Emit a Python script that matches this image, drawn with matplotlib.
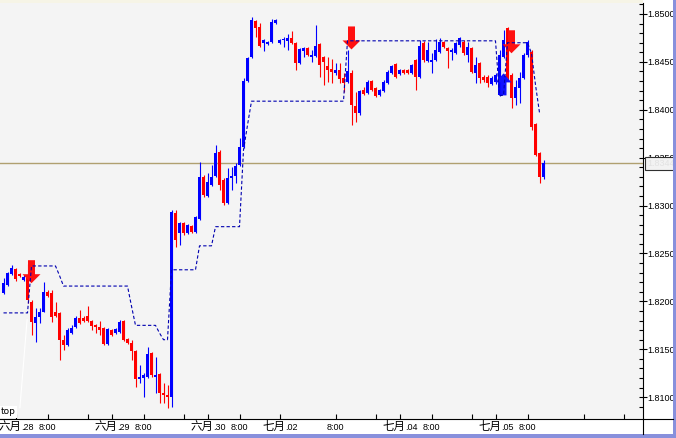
import numpy as np
import matplotlib
matplotlib.use("Agg")
import matplotlib.pyplot as plt
from matplotlib.patches import Polygon, Rectangle
from matplotlib.lines import Line2D
import matplotlib.transforms as mtransforms

# hourly candles, GBP/USD style quotes
opens = [1.8209, 1.8217, 1.8229, 1.8234, 1.8229, 1.8222, 1.8224, 1.8199, 1.8177, 1.8184,
         1.8189, 1.8210, 1.8209, 1.8189, 1.8188, 1.8160, 1.8154, 1.8167, 1.8173, 1.8183,
         1.8183, 1.8185, 1.8180, 1.8175, 1.8173, 1.8172, 1.8156, 1.8170, 1.8167, 1.8168,
         1.8180, 1.8161, 1.8157, 1.8148, 1.8119, 1.8120, 1.8121, 1.8146, 1.8121, 1.8124,
         1.8104, 1.8102, 1.8100, 1.8292, 1.8271, 1.8282, 1.8271, 1.8279, 1.8272, 1.8286,
         1.8330, 1.8310, 1.8322, 1.8331, 1.8356, 1.8327, 1.8303, 1.8329, 1.8331, 1.8342,
         1.8361, 1.8430, 1.8455, 1.8493, 1.8486, 1.8470, 1.8469, 1.8471, 1.8491, 1.8470,
         1.8473, 1.8472, 1.8475, 1.8470, 1.8449, 1.8461, 1.8465, 1.8455, 1.8456, 1.8469,
         1.8455, 1.8446, 1.8443, 1.8438, 1.8442, 1.8433, 1.8429, 1.8438, 1.8404, 1.8397,
         1.8421, 1.8418, 1.8430, 1.8423, 1.8415, 1.8420, 1.8428, 1.8438, 1.8448, 1.8437,
         1.8442, 1.8442, 1.8438, 1.8452, 1.8434, 1.8470, 1.8451, 1.8450, 1.8452, 1.8460,
         1.8471, 1.8465, 1.8460, 1.8459, 1.8468, 1.8471, 1.8457, 1.8465, 1.8438, 1.8449,
         1.8434, 1.8434, 1.8427, 1.8429, 1.8415, 1.8455, 1.8485, 1.8436, 1.8412, 1.8423,
         1.8433, 1.8457, 1.8460, 1.8385, 1.8355, 1.8330]
highs = [1.8224, 1.8231, 1.8238, 1.8235, 1.8230, 1.8228, 1.8239, 1.8201, 1.8193, 1.8193,
         1.8220, 1.8212, 1.8212, 1.8199, 1.8189, 1.8165, 1.8172, 1.8175, 1.8185, 1.8191,
         1.8185, 1.8195, 1.8181, 1.8176, 1.8180, 1.8173, 1.8172, 1.8171, 1.8172, 1.8181,
         1.8181, 1.8162, 1.8160, 1.8149, 1.8134, 1.8125, 1.8152, 1.8147, 1.8142, 1.8125,
         1.8115, 1.8113, 1.8295, 1.8295, 1.8283, 1.8283, 1.8281, 1.8280, 1.8289, 1.8346,
         1.8332, 1.8334, 1.8342, 1.8363, 1.8358, 1.8329, 1.8339, 1.8340, 1.8344, 1.8371,
         1.8433, 1.8455, 1.8497, 1.8494, 1.8491, 1.8474, 1.8472, 1.8495, 1.8495, 1.8474,
         1.8476, 1.8479, 1.8482, 1.8471, 1.8465, 1.8466, 1.8466, 1.8462, 1.8489, 1.8470,
         1.8456, 1.8455, 1.8453, 1.8449, 1.8449, 1.8438, 1.8462, 1.8442, 1.8419, 1.8421,
         1.8424, 1.8431, 1.8431, 1.8424, 1.8422, 1.8431, 1.8442, 1.8447, 1.8449, 1.8443,
         1.8443, 1.8443, 1.8448, 1.8453, 1.8473, 1.8472, 1.8471, 1.8459, 1.8474, 1.8475,
         1.8472, 1.8466, 1.8465, 1.8471, 1.8476, 1.8473, 1.8471, 1.8466, 1.8455, 1.8450,
         1.8436, 1.8436, 1.8435, 1.8438, 1.8462, 1.8483, 1.8486, 1.8438, 1.8431, 1.8439,
         1.8459, 1.8473, 1.8462, 1.8386, 1.8356, 1.8348]
lows = [1.8208, 1.8216, 1.8228, 1.8221, 1.8225, 1.8221, 1.8198, 1.8165, 1.8158, 1.8177,
        1.8189, 1.8205, 1.8179, 1.8184, 1.8139, 1.8149, 1.8153, 1.8166, 1.8172, 1.8176,
        1.8179, 1.8179, 1.8170, 1.8167, 1.8165, 1.8154, 1.8154, 1.8164, 1.8166, 1.8167,
        1.8159, 1.8156, 1.8139, 1.8111, 1.8115, 1.8100, 1.8120, 1.8121, 1.8104, 1.8094,
        1.8094, 1.8089, 1.8090, 1.8257, 1.8259, 1.8269, 1.8270, 1.8271, 1.8271, 1.8285,
        1.8309, 1.8309, 1.8320, 1.8330, 1.8316, 1.8301, 1.8302, 1.8316, 1.8324, 1.8341,
        1.8360, 1.8429, 1.8454, 1.8476, 1.8466, 1.8461, 1.8468, 1.8470, 1.8490, 1.8469,
        1.8466, 1.8462, 1.8469, 1.8442, 1.8448, 1.8455, 1.8456, 1.8450, 1.8455, 1.8434,
        1.8426, 1.8429, 1.8428, 1.8436, 1.8428, 1.8419, 1.8428, 1.8384, 1.8387, 1.8395,
        1.8415, 1.8416, 1.8420, 1.8413, 1.8414, 1.8419, 1.8427, 1.8437, 1.8433, 1.8436,
        1.8437, 1.8437, 1.8437, 1.8421, 1.8433, 1.8450, 1.8450, 1.8438, 1.8451, 1.8459,
        1.8465, 1.8444, 1.8452, 1.8458, 1.8466, 1.8457, 1.8450, 1.8438, 1.8428, 1.8428,
        1.8429, 1.8424, 1.8426, 1.8427, 1.8414, 1.8454, 1.8431, 1.8402, 1.8405, 1.8407,
        1.8432, 1.8455, 1.8379, 1.8352, 1.8324, 1.8328]
closes = [1.8219, 1.8230, 1.8235, 1.8223, 1.8227, 1.8225, 1.8201, 1.8179, 1.8184, 1.8189,
          1.8210, 1.8206, 1.8184, 1.8185, 1.8160, 1.8154, 1.8170, 1.8172, 1.8183, 1.8177,
          1.8180, 1.8180, 1.8174, 1.8173, 1.8170, 1.8156, 1.8171, 1.8165, 1.8171, 1.8179,
          1.8160, 1.8157, 1.8148, 1.8119, 1.8121, 1.8123, 1.8145, 1.8123, 1.8123, 1.8104,
          1.8102, 1.8100, 1.8293, 1.8264, 1.8282, 1.8271, 1.8280, 1.8272, 1.8288, 1.8330,
          1.8311, 1.8325, 1.8330, 1.8355, 1.8322, 1.8303, 1.8329, 1.8331, 1.8341, 1.8361,
          1.8430, 1.8454, 1.8494, 1.8485, 1.8467, 1.8473, 1.8471, 1.8492, 1.8494, 1.8473,
          1.8474, 1.8475, 1.8470, 1.8449, 1.8463, 1.8465, 1.8457, 1.8457, 1.8467, 1.8447,
          1.8450, 1.8442, 1.8439, 1.8442, 1.8432, 1.8428, 1.8441, 1.8405, 1.8397, 1.8420,
          1.8416, 1.8429, 1.8421, 1.8414, 1.8421, 1.8429, 1.8439, 1.8446, 1.8434, 1.8442,
          1.8438, 1.8438, 1.8447, 1.8434, 1.8467, 1.8452, 1.8462, 1.8452, 1.8462, 1.8471,
          1.8466, 1.8461, 1.8462, 1.8470, 1.8475, 1.8459, 1.8466, 1.8439, 1.8447, 1.8433,
          1.8431, 1.8428, 1.8433, 1.8436, 1.8457, 1.8473, 1.8433, 1.8412, 1.8424, 1.8433,
          1.8457, 1.8471, 1.8382, 1.8353, 1.8330, 1.8344]

# trailing stop level (step line)
stop = ([1.8188] * 7 + [1.8237] * 7 + [1.8227] + [1.8216] * 17 + [1.8195] + [1.8175] * 6
        + [1.8167] + [1.8160] * 2 + [1.8233] * 7 + [1.8258] * 4 + [1.8278] * 7
        + [1.8358, 1.8384] + [1.8409] * 24 + [1.8472] * 38 + [1.8415] * 2
        + [1.8470] * 6 + [1.8459, 1.8426, 1.8397, np.nan])

sell_idx = [7, 87, 127]
sell_price = [1.8219, 1.8463, 1.8459]
buy_idx = [125]
buy_price = [1.8438]
last_price = 1.8344

day_ticks = [3, 27, 51, 69, 99, 123]
day_months = ["六月", "六月", "六月", "七月", "七月", "七月"]
day_dates = [".28", ".29", ".30", ".02", ".04", ".05"]
hour_ticks = [11, 35, 59, 83, 107, 131]
blank_ticks = [21, 45, 93, 117, 145, 155]

W, H = 676, 438
fig = plt.figure(figsize=(W / 100, H / 100), dpi=100, facecolor="white")
ax = fig.add_axes([0, 1 - 419 / H, 643 / W, (419 - 3) / H])
ax.set_facecolor("#F4F4F4")
ax.set_xlim(-0.875, 159.875)
ax.set_ylim(1.807724, 1.851148)

# size of one screen pixel in data units
px_x = (159.875 + 0.875) / 643
px_y = (1.851148 - 1.807724) / 416

x = np.arange(len(opens))
o = np.array(opens)
c = np.array(closes)
colors = np.where(c >= o, "#0000FF", "#FF0000")
ax.vlines(x, lows, highs, colors=colors, lw=0.8, zorder=2)
body_h = np.maximum(np.abs(c - o), px_y)
ax.bar(x, body_h, bottom=np.minimum(o, c), width=0.75, color=colors, linewidth=0, zorder=2)

for xi, tip in zip(sell_idx, sell_price):
    pts = [(-3.5, 23), (3.5, 23), (3.5, 9), (9, 9), (0, 0), (-9, 9), (-3.5, 9)]
    ax.add_patch(Polygon([(xi + dx * px_x, tip + dy * px_y) for dx, dy in pts],
                         closed=True, fc="#FF1010", ec="none", zorder=3))
for xi, tip in zip(buy_idx, buy_price):
    pts = [(-3, -22), (3, -22), (3, -9), (8, -9), (0, 0), (-8, -9), (-3, -9)]
    ax.add_patch(Polygon([(xi + dx * px_x, tip + dy * px_y) for dx, dy in pts],
                         closed=True, fc="#1010FF", ec="none", zorder=3))

ax.plot(x, stop, color="#0000B0", lw=0.8, dashes=(3, 2), zorder=4)
ax.axhline(last_price, color="#B0A070", lw=1.0, zorder=1)

# faint line from the "top" label
ax.plot([4.1, 5.9], [1.8089, 1.8181], color="white", lw=0.8, zorder=1)

# right price axis
ax.yaxis.tick_right()
ax.set_yticks(np.arange(1.8100, 1.85001, 0.005))
ax.set_yticks(np.arange(1.8090, 1.85101, 0.001), minor=True)
ax.yaxis.set_major_formatter(matplotlib.ticker.FormatStrFormatter("%.4f"))
ax.tick_params(axis="y", which="major", direction="inout", length=5.8, width=0.8,
               pad=0.5, labelsize=6.5, labelfontfamily="Liberation Sans")
ax.tick_params(axis="y", which="minor", direction="in", length=3, width=0.8)

# time axis
ax.set_xticks(sorted(day_ticks + hour_ticks + blank_ticks))
ax.set_xticklabels([])
ax.tick_params(axis="x", direction="in", length=3.6, width=0.8)
for xt, m, d in zip(day_ticks, day_months, day_dates):
    ax.annotate(m, xy=(xt, 0), xycoords=("data", "axes fraction"), xytext=(4.0, -7.8),
                textcoords="offset points", ha="right", va="baseline", fontsize=8.3,
                family=["Noto Sans CJK SC", "DejaVu Sans"], annotation_clip=False)
    ax.annotate(d, xy=(xt, 0), xycoords=("data", "axes fraction"), xytext=(4.2, -7.8),
                textcoords="offset points", ha="left", va="baseline", fontsize=6.5,
                family="Liberation Sans", annotation_clip=False)
for xt in hour_ticks:
    ax.annotate("8:00", xy=(xt, 0), xycoords=("data", "axes fraction"), xytext=(0, -7.8),
                textcoords="offset points", ha="center", va="baseline", fontsize=6.5,
                family="Liberation Sans", annotation_clip=False)

for side in ["top", "left"]:
    ax.spines[side].set_visible(False)
for side in ["right", "bottom"]:
    ax.spines[side].set_linewidth(0.8)

# current price box on the scale
ax.text(1.0, last_price, "1.8344", transform=mtransforms.blended_transform_factory(
            ax.transAxes, ax.transData) + mtransforms.ScaledTranslation(4 / 100, 0, fig.dpi_scale_trans),
        ha="left", va="center", fontsize=6.5, family="Liberation Sans", color="#E2E2E2",
        bbox=dict(boxstyle="square,pad=0.25", fc="#F2F2F2", ec="#303030", lw=0.8),
        zorder=10, clip_on=False)

ax.text(1 / 643, 7 / 416, "top", transform=ax.transAxes, fontsize=6.5, family="DejaVu Sans",
        ha="left", va="center", zorder=10,
        bbox=dict(boxstyle="square,pad=0.15", fc="white", ec="none"))

# frame lines outside the plot, window border
fig.add_artist(Line2D([643 / W, 673 / W], [1 - 419 / H] * 2, color="black", lw=0.8))
fig.add_artist(Line2D([643 / W] * 2, [1 - 434 / H, 1 - 419 / H], color="black", lw=0.8))
fig.add_artist(Rectangle((0, 1 - 3 / H), 643 / W, 3 / H, transform=fig.transFigure,
                         fc="#F6F4E6", ec="none"))
fig.add_artist(Rectangle((673 / W, 0), 3 / W, 1, transform=fig.transFigure,
                         fc="#8890DC", ec="none"))
fig.add_artist(Rectangle((0, 0), 1, 4 / H, transform=fig.transFigure,
                         fc="#8890DC", ec="none"))

fig.savefig("out.png", dpi=100, facecolor="white")
